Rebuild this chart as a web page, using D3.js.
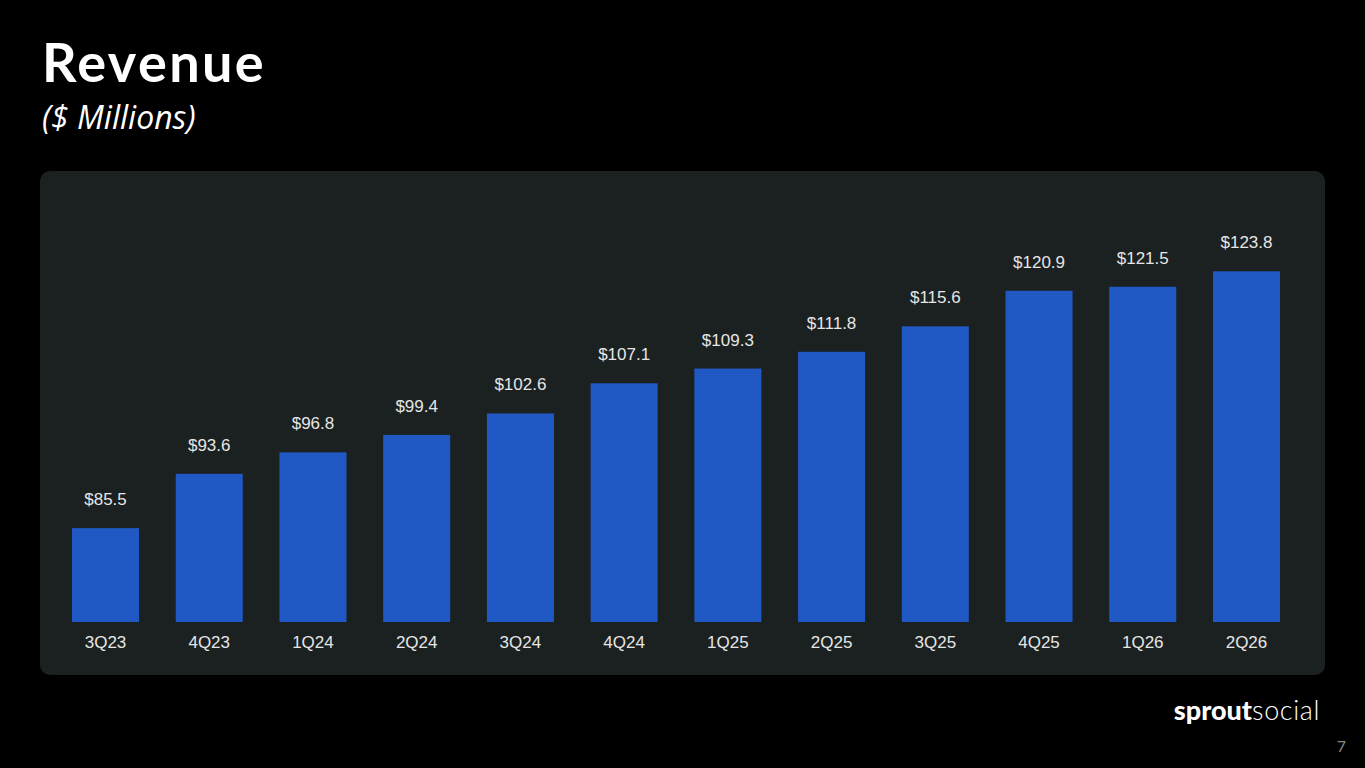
<!DOCTYPE html>
<html>
<head>
<meta charset="utf-8">
<script src="https://cdn.jsdelivr.net/npm/d3@7"></script>
<style>
  html, body { margin: 0; padding: 0; background: #000; }
  svg { display: block; }
</style>
</head>
<body>
<script>
const quarters = ["3Q23", "4Q23", "1Q24", "2Q24", "3Q24", "4Q24", "1Q25", "2Q25", "3Q25", "4Q25", "1Q26", "2Q26"];
const revenue = [85.5, 93.6, 96.8, 99.4, 102.6, 107.1, 109.3, 111.8, 115.6, 120.9, 121.5, 123.8];

const W = 1365, H = 768;

const svg = d3.select("body")
    .append("svg")
    .attr("width", W)
    .attr("height", H);

svg.append("rect")
    .attr("width", W)
    .attr("height", H)
    .attr("fill", "#000");

// titles
svg.append("text")
    .attr("x", 42)
    .attr("y", 82)
    .attr("fill", "#fff")
    .attr("font-family", "Lato, sans-serif")
    .attr("font-weight", 700)
    .attr("font-size", 54)
    .attr("letter-spacing", 2.4)
    .text("Revenue");

svg.append("text")
    .attr("x", 42)
    .attr("y", 129)
    .attr("fill", "#fff")
    .attr("font-family", "Open Sans, sans-serif")
    .attr("font-style", "italic")
    .attr("font-weight", 400)
    .attr("font-size", 32)
    .text("($ Millions)");

// chart panel
svg.append("rect")
    .attr("x", 40)
    .attr("y", 171)
    .attr("width", 1285)
    .attr("height", 504)
    .attr("rx", 10)
    .attr("fill", "#1b2021");

const x = d3.scaleBand()
    .domain(quarters)
    .range([53.65, 1298.35])
    .paddingInner(0.354)
    .paddingOuter(0.177);

const y = d3.scaleLinear()
    .domain([71.5, 124])
    .range([622, 270]);

const g = svg.append("g");

g.selectAll(".bar")
    .data(revenue)
    .enter()
    .append("rect")
    .attr("class", "bar")
    .attr("x", (d, i) => x(quarters[i]))
    .attr("y", d => y(d))
    .attr("width", x.bandwidth())
    .attr("height", d => y.range()[0] - y(d))
    .attr("fill", "#2159c4");

g.selectAll(".val")
    .data(revenue)
    .enter()
    .append("text")
    .attr("class", "val")
    .attr("x", (d, i) => x(quarters[i]) + x.bandwidth() / 2)
    .attr("y", d => y(d) - 23)
    .attr("text-anchor", "middle")
    .attr("fill", "#e6e6e6")
    .attr("font-family", "Liberation Sans, Arial, sans-serif")
    .attr("font-size", 17)
    .text(d => "$" + d.toFixed(1));

const xAxis = svg.append("g")
    .attr("transform", "translate(0,622)")
    .call(d3.axisBottom(x).tickSize(0).tickPadding(0));

xAxis.select(".domain").remove();
xAxis.selectAll("text")
    .attr("dy", 0)
    .attr("y", 26)
    .attr("fill", "#e6e6e6")
    .attr("font-family", "Liberation Sans, Arial, sans-serif")
    .attr("font-size", 17);

// logo
const logo = svg.append("text")
    .attr("x", 1320)
    .attr("y", 720)
    .attr("text-anchor", "end")
    .attr("fill", "#fff")
    .attr("font-family", "Lato, sans-serif")
    .attr("font-size", 27);
logo.append("tspan").attr("font-weight", 900).text("sprout");
logo.append("tspan").attr("font-weight", 300).attr("letter-spacing", 0.6).text("social");

svg.append("text")
    .attr("x", 1346)
    .attr("y", 752)
    .attr("text-anchor", "end")
    .attr("fill", "#8a8a8a")
    .attr("font-family", "Lato, sans-serif")
    .attr("font-size", 16)
    .text("7");
</script>
</body>
</html>
